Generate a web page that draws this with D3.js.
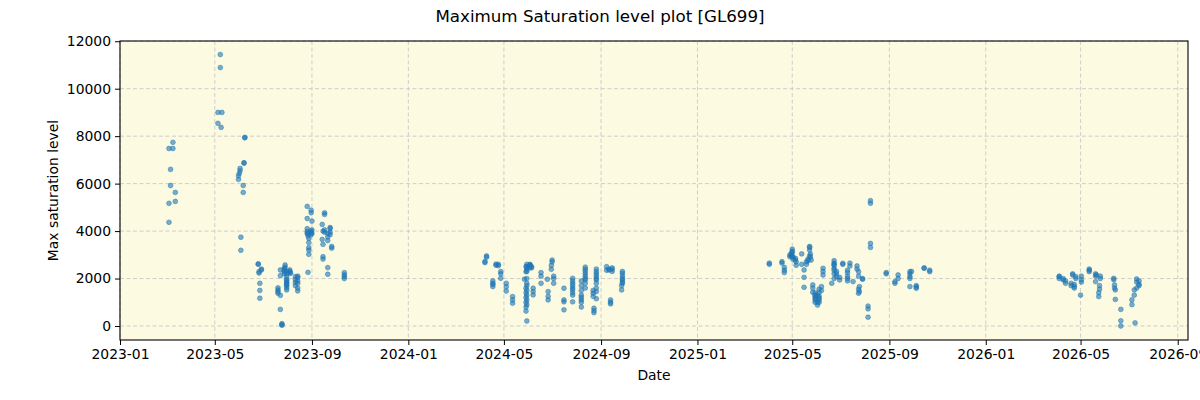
<!DOCTYPE html>
<html>
<head>
<meta charset="utf-8">
<script src="https://cdn.jsdelivr.net/npm/d3@7"></script>
<style>
  body { margin: 0; background: #fff; }
  text { font-family: 'DejaVu Sans', sans-serif; fill: #000; }
  .grid line { stroke: #c8c8c8; stroke-dasharray: 4,2.5; stroke-width: 0.9; }
  .axis path, .axis line { stroke: #000; }
</style>
</head>
<body>
<div id="graphics"></div>
<script>
const dates2023 = [
  '2023-03-04', '2023-03-04', '2023-03-04', '2023-03-09', '2023-03-09', '2023-03-06', '2023-03-06', '2023-03-12', '2023-03-12',
  '2023-05-08', '2023-05-08', '2023-05-05', '2023-05-05', '2023-05-10', '2023-05-09',
  '2023-05-31', '2023-05-31', '2023-06-01', '2023-06-02', '2023-06-02', '2023-06-06', '2023-06-06', '2023-06-03', '2023-06-03',
  '2023-06-07', '2023-06-07', '2023-06-08', '2023-06-08',
  '2023-06-25', '2023-06-25', '2023-06-26', '2023-06-26', '2023-06-29', '2023-06-29', '2023-06-27', '2023-06-27', '2023-06-27',
  '2023-07-20', '2023-07-20', '2023-07-20', '2023-07-20', '2023-07-23', '2023-07-23', '2023-07-23', '2023-07-23',
  '2023-07-25', '2023-07-25', '2023-07-25', '2023-07-28', '2023-07-28', '2023-07-28', '2023-07-28', '2023-07-29', '2023-07-29',
  '2023-07-31', '2023-07-31', '2023-07-31', '2023-07-31', '2023-07-31', '2023-07-31', '2023-07-31', '2023-07-31',
  '2023-07-31', '2023-07-31', '2023-07-31',
  '2023-08-04', '2023-08-04', '2023-08-04', '2023-08-05', '2023-08-11', '2023-08-11', '2023-08-11', '2023-08-11',
  '2023-08-14', '2023-08-14', '2023-08-14', '2023-08-14', '2023-08-14', '2023-08-14',
  '2023-08-26', '2023-08-26', '2023-08-26', '2023-08-26', '2023-08-26', '2023-08-27', '2023-08-27', '2023-08-27',
  '2023-08-28', '2023-08-28', '2023-08-28', '2023-08-28', '2023-08-28', '2023-08-31', '2023-08-31', '2023-08-31', '2023-08-31', '2023-08-31',
  '2023-09-01', '2023-09-01', '2023-09-01',
  '2023-09-14', '2023-09-14', '2023-09-15', '2023-09-15', '2023-09-15', '2023-09-15', '2023-09-17', '2023-09-17', '2023-09-17', '2023-09-17',
  '2023-09-21', '2023-09-21', '2023-09-21', '2023-09-21', '2023-09-21', '2023-09-24', '2023-09-24', '2023-09-24', '2023-09-24',
  '2023-09-26', '2023-09-26', '2023-10-12', '2023-10-12', '2023-10-12', '2023-10-12'
];
const values2023 = [
  7480, 5170, 4370, 7740, 7480, 6600, 5920, 5630, 5250,
  11440, 10890, 9000, 8540, 9000, 8370,
  6330, 6180, 6430, 6640, 6540, 5920, 5630, 3740, 3190,
  6880, 6860, 7930, 7950,
  2620, 2600, 2290, 2230, 2360, 2400, 1800, 1500, 1170,
  1610, 1520, 1380, 1450, 2360, 2120, 1290, 700,
  60, 30, 100, 2430, 2290, 2200, 2350, 2570, 2480,
  2080, 1960, 1850, 1730, 1610, 1520, 1800, 1700,
  2200, 2300, 1900,
  2360, 2250, 2300, 2220, 2080, 1950, 1830, 1700,
  2040, 1600, 1480, 2100, 1900, 1800,
  5040, 4530, 4100, 3980, 3900, 2260, 3800, 3900,
  3520, 3300, 3200, 3020, 3700, 4880, 4770, 4000, 3850, 3950,
  4420, 4050, 3900,
  4280, 3650, 3440, 2920, 2820, 4000, 4770, 4700, 3950, 4050,
  2460, 2180, 3900, 3750, 3600, 4100, 3850, 3950, 4150,
  3280, 3350, 2250, 2150, 2080, 2000
];

const dates2024 = [
  '2024-04-07', '2024-04-07', '2024-04-09', '2024-04-09', '2024-04-17', '2024-04-17', '2024-04-17', '2024-04-17',
  '2024-04-21', '2024-04-21', '2024-04-24', '2024-04-24', '2024-04-27', '2024-04-27', '2024-04-27',
  '2024-05-04', '2024-05-04', '2024-05-04', '2024-05-12', '2024-05-12', '2024-05-12', '2024-05-27',
  '2024-05-29', '2024-05-29', '2024-05-29', '2024-05-29', '2024-05-29', '2024-05-29', '2024-05-29', '2024-05-29',
  '2024-05-30', '2024-05-30', '2024-05-30', '2024-05-30', '2024-05-30', '2024-05-30', '2024-05-30',
  '2024-05-30', '2024-05-30', '2024-05-30', '2024-05-30', '2024-05-30',
  '2024-06-03', '2024-06-03', '2024-06-03', '2024-06-03', '2024-06-05', '2024-06-05', '2024-06-07', '2024-06-07', '2024-06-07',
  '2024-06-17', '2024-06-17', '2024-06-17', '2024-06-25', '2024-06-26', '2024-06-26', '2024-06-26',
  '2024-06-30', '2024-06-30', '2024-07-01', '2024-07-01', '2024-07-03', '2024-07-03', '2024-07-03',
  '2024-07-16', '2024-07-16', '2024-07-16', '2024-07-16', '2024-07-27', '2024-07-27', '2024-07-27', '2024-07-27', '2024-07-27', '2024-07-27',
  '2024-07-27', '2024-07-27', '2024-07-27',
  '2024-08-07', '2024-08-07', '2024-08-07', '2024-08-07', '2024-08-07', '2024-08-07', '2024-08-07', '2024-08-07',
  '2024-08-12', '2024-08-12', '2024-08-12', '2024-08-12', '2024-08-12', '2024-08-12', '2024-08-12', '2024-08-12', '2024-08-12',
  '2024-08-22', '2024-08-22', '2024-08-22',
  '2024-08-23', '2024-08-23', '2024-08-23', '2024-08-26', '2024-08-26', '2024-08-26', '2024-08-26',
  '2024-08-26', '2024-08-26', '2024-08-26', '2024-08-26', '2024-08-26', '2024-08-26',
  '2024-09-08', '2024-09-08', '2024-09-11', '2024-09-11', '2024-09-13', '2024-09-13', '2024-09-13',
  '2024-09-15', '2024-09-15', '2024-09-15', '2024-09-27', '2024-09-27',
  '2024-09-28', '2024-09-28', '2024-09-28', '2024-09-28', '2024-09-28', '2024-09-28', '2024-09-28'
];
const values2024 = [
  2670, 2720, 2950, 2900, 1800, 1660, 1750, 1900,
  2610, 2560, 2540, 2600, 2290, 2010, 2200,
  1800, 1470, 1650, 1240, 960, 1100, 1970,
  2290, 1590, 1400, 1200, 1000, 800, 630, 2500,
  2500, 2600, 2400, 210, 1800, 1500, 1100,
  2300, 2000, 1700, 1300, 900,
  2570, 2450, 2550, 2600, 2500, 2450, 1590, 1310, 1450,
  2250, 1800, 2100, 1970, 1450, 1100, 1250,
  2390, 2550, 2780, 2700, 2100, 1800, 2000,
  1590, 1020, 680, 1100, 2010, 1020, 1900, 1700, 1520, 1800,
  1600, 1400, 1300,
  1500, 1300, 1000, 800, 1700, 1900, 1200, 1100,
  2390, 1940, 2200, 2300, 2480, 2100, 2000, 1800, 1600,
  1380, 1500, 1250,
  750, 560, 650, 2290, 1940, 2100, 2400,
  2200, 2000, 1800, 1600, 1450, 1150,
  2500, 2350, 2360, 2400, 1100, 930, 1000,
  2390, 2300, 2450, 1520, 1700,
  2220, 1940, 2100, 2000, 2300, 1850, 1800
];

const dates2025 = [
  '2025-04-02', '2025-04-02', '2025-04-18', '2025-04-18', '2025-04-21', '2025-04-21', '2025-04-21',
  '2025-04-28', '2025-04-28', '2025-04-30', '2025-04-30', '2025-05-01', '2025-05-01', '2025-05-01', '2025-05-01', '2025-05-02', '2025-05-02',
  '2025-05-05', '2025-05-05', '2025-05-06', '2025-05-06', '2025-05-13', '2025-05-13', '2025-05-16', '2025-05-16', '2025-05-16',
  '2025-05-19', '2025-05-19', '2025-05-21', '2025-05-21', '2025-05-23', '2025-05-23', '2025-05-23', '2025-05-23',
  '2025-05-24', '2025-05-24', '2025-05-25',
  '2025-05-27', '2025-05-27', '2025-05-27', '2025-05-30', '2025-05-30', '2025-05-30', '2025-05-30', '2025-05-30', '2025-05-30',
  '2025-06-02', '2025-06-02', '2025-06-02',
  '2025-06-04', '2025-06-04', '2025-06-04', '2025-06-04', '2025-06-04', '2025-06-04',
  '2025-06-07', '2025-06-07', '2025-06-09', '2025-06-09', '2025-06-09',
  '2025-06-20', '2025-06-23', '2025-06-23', '2025-06-23', '2025-06-23', '2025-06-23', '2025-06-23', '2025-06-23', '2025-06-23',
  '2025-06-26', '2025-06-26', '2025-06-26',
  '2025-06-30', '2025-06-30', '2025-07-04', '2025-07-04', '2025-07-10', '2025-07-10', '2025-07-10', '2025-07-10', '2025-07-10',
  '2025-07-13', '2025-07-13',
  '2025-07-17', '2025-07-22', '2025-07-22', '2025-07-24', '2025-07-24', '2025-07-24', '2025-07-24',
  '2025-07-25', '2025-07-25', '2025-07-29', '2025-07-29', '2025-08-05', '2025-08-05', '2025-08-05',
  '2025-08-08', '2025-08-08', '2025-08-08', '2025-08-08', '2025-08-28', '2025-08-28',
  '2025-09-08', '2025-09-08', '2025-09-12', '2025-09-12', '2025-09-27', '2025-09-27', '2025-09-27', '2025-09-27', '2025-09-27',
  '2025-09-29', '2025-10-05', '2025-10-05', '2025-10-05', '2025-10-15', '2025-10-15', '2025-10-22', '2025-10-22'
];
const values2025 = [
  2600, 2650, 2710, 2650, 2470, 2250, 2350,
  2920, 3000, 3060, 2950, 3240, 3150, 3100, 2950, 2810, 2900,
  2780, 2850, 2560, 2700, 3040, 2600, 2360, 2050, 1630,
  2710, 2600, 2820, 2750, 3310, 3350, 3200, 2950,
  3030, 2900, 2780,
  1730, 1420, 1600, 1170, 1100, 1250, 1000, 1300, 1400,
  880, 1000, 1300,
  1170, 1000, 1100, 1250, 1400, 1550,
  1660, 1500, 2430, 2150, 2300,
  1800, 2750, 2430, 2650, 2550, 2600, 2350, 2200, 2000,
  2080, 2200, 2300,
  1940, 2050, 2640, 2600, 2250, 2350, 2100, 2000, 1900,
  2530, 2650,
  1870, 2530, 2400, 2290, 1380, 1550, 2100,
  1660, 1450, 1970, 2000, 840, 720, 370,
  5280, 5170, 3480, 3310, 2250, 2200,
  1870, 1800, 2150, 2000, 2290, 2080, 1660, 2200, 2000,
  2300, 1590, 1650, 1700, 2430, 2450, 2290, 2350
];

const dates2026 = [
  '2026-04-04', '2026-04-04', '2026-04-04', '2026-04-09', '2026-04-09', '2026-04-12', '2026-04-12',
  '2026-04-19', '2026-04-19', '2026-04-21', '2026-04-21', '2026-04-23', '2026-04-23', '2026-04-23', '2026-04-25', '2026-04-25',
  '2026-05-01', '2026-05-02', '2026-05-02', '2026-05-02', '2026-05-12', '2026-05-12', '2026-05-12',
  '2026-05-20', '2026-05-20', '2026-05-20', '2026-05-21', '2026-05-24', '2026-05-24', '2026-05-25', '2026-05-25', '2026-05-26', '2026-05-26',
  '2026-06-12', '2026-06-12', '2026-06-13', '2026-06-13', '2026-06-14', '2026-06-14', '2026-06-21', '2026-06-21', '2026-06-21',
  '2026-07-05', '2026-07-05', '2026-07-08', '2026-07-08', '2026-07-09', '2026-07-11', '2026-07-11', '2026-07-11',
  '2026-07-14', '2026-07-14', '2026-07-14'
];
const values2026 = [
  2080, 2000, 2100, 1940, 2000, 1800, 1900,
  1800, 1700, 2150, 2200, 1660, 1750, 1600, 2080, 2000,
  1300, 2100, 1850, 1950, 2290, 2400, 2350,
  1870, 2100, 2200, 2150, 1240, 1400, 1550, 1700, 2100, 2000,
  2010, 1950, 1730, 1600, 1520, 1120, 700, 220, 0,
  1100, 900, 1520, 1300, 130, 1980, 1850, 1600,
  1760, 1900, 1700
];

const xTicks = ['2023-01', '2023-05', '2023-09', '2024-01', '2024-05', '2024-09', '2025-01', '2025-05', '2025-09', '2026-01', '2026-05', '2026-09'];
const yTicks = [0, 2000, 4000, 6000, 8000, 10000, 12000];

const margin = { top: 41, left: 120, right: 12, bottom: 60 };
const width = 1200 - margin.left - margin.right;
const height = 400 - margin.top - margin.bottom;

const parseDay = d3.timeParse('%Y-%m-%d');
const parseMonth = d3.timeParse('%Y-%m');

const points = [];
[[dates2023, values2023], [dates2024, values2024], [dates2025, values2025], [dates2026, values2026]].forEach(([ds, vs]) => {
  ds.forEach((d, i) => points.push({ date: parseDay(d), value: vs[i] }));
});

const svgRoot = d3.select('#graphics').append('svg')
  .attr('width', 1200).attr('height', 400);

const svg = svgRoot.append('g')
  .attr('transform', 'translate(' + margin.left + ',' + margin.top + ')');

const xPositionScale = d3.scaleTime()
  .domain([parseDay('2023-01-01'), parseDay('2026-09-14')])
  .range([0, width]);
const yPositionScale = d3.scaleLinear()
  .domain([-590, 12010])
  .range([height, 0]);

svg.append('rect')
  .attr('width', width).attr('height', height)
  .attr('fill', '#fcfbe2');

// grid
svg.append('g').attr('class', 'grid')
  .selectAll('line').data(xTicks).join('line')
  .attr('x1', d => xPositionScale(parseMonth(d))).attr('x2', d => xPositionScale(parseMonth(d)))
  .attr('y1', 0).attr('y2', height);
svg.append('g').attr('class', 'grid')
  .selectAll('line').data(yTicks).join('line')
  .attr('y1', d => yPositionScale(d)).attr('y2', d => yPositionScale(d))
  .attr('x1', 0).attr('x2', width);

svg.append('g')
  .selectAll('circle').data(points).join('circle')
  .attr('cx', d => xPositionScale(d.date))
  .attr('cy', d => yPositionScale(d.value))
  .attr('r', 2.4)
  .attr('fill', '#1f77b4')
  .attr('fill-opacity', 0.6)
  .attr('stroke', '#1f77b4')
  .attr('stroke-opacity', 0.6)
  .attr('stroke-width', 0.8);

// axes
const xAxis = svg.append('g').attr('class', 'axis')
  .attr('transform', 'translate(0,' + height + ')')
  .call(d3.axisBottom(xPositionScale)
    .tickValues(xTicks.map(parseMonth))
    .tickFormat(d3.timeFormat('%Y-%m'))
    .tickSize(5).tickPadding(4));
const yAxis = svg.append('g').attr('class', 'axis')
  .call(d3.axisLeft(yPositionScale)
    .tickValues(yTicks)
    .tickFormat(d3.format('d'))
    .tickSize(5).tickPadding(4));

svg.selectAll('.axis text').attr('font-size', 13.9).attr('font-family', 'DejaVu Sans, sans-serif');
svg.selectAll('.axis .domain').remove();

// frame
svg.append('rect')
  .attr('width', width).attr('height', height)
  .attr('fill', 'none').attr('stroke', '#000').attr('stroke-width', 1.1);

// labels
svgRoot.append('text')
  .text('Maximum Saturation level plot [GL699]')
  .attr('x', 600).attr('y', 22)
  .attr('text-anchor', 'middle')
  .attr('font-size', 16.7);

svgRoot.append('text')
  .text('Date')
  .attr('x', margin.left + width / 2).attr('y', 380)
  .attr('text-anchor', 'middle')
  .attr('font-size', 13.9);

svgRoot.append('text')
  .text('Max saturation level')
  .attr('transform', 'translate(58,' + (margin.top + height / 2) + ') rotate(-90)')
  .attr('text-anchor', 'middle')
  .attr('font-size', 13.9);
</script>
</body>
</html>
